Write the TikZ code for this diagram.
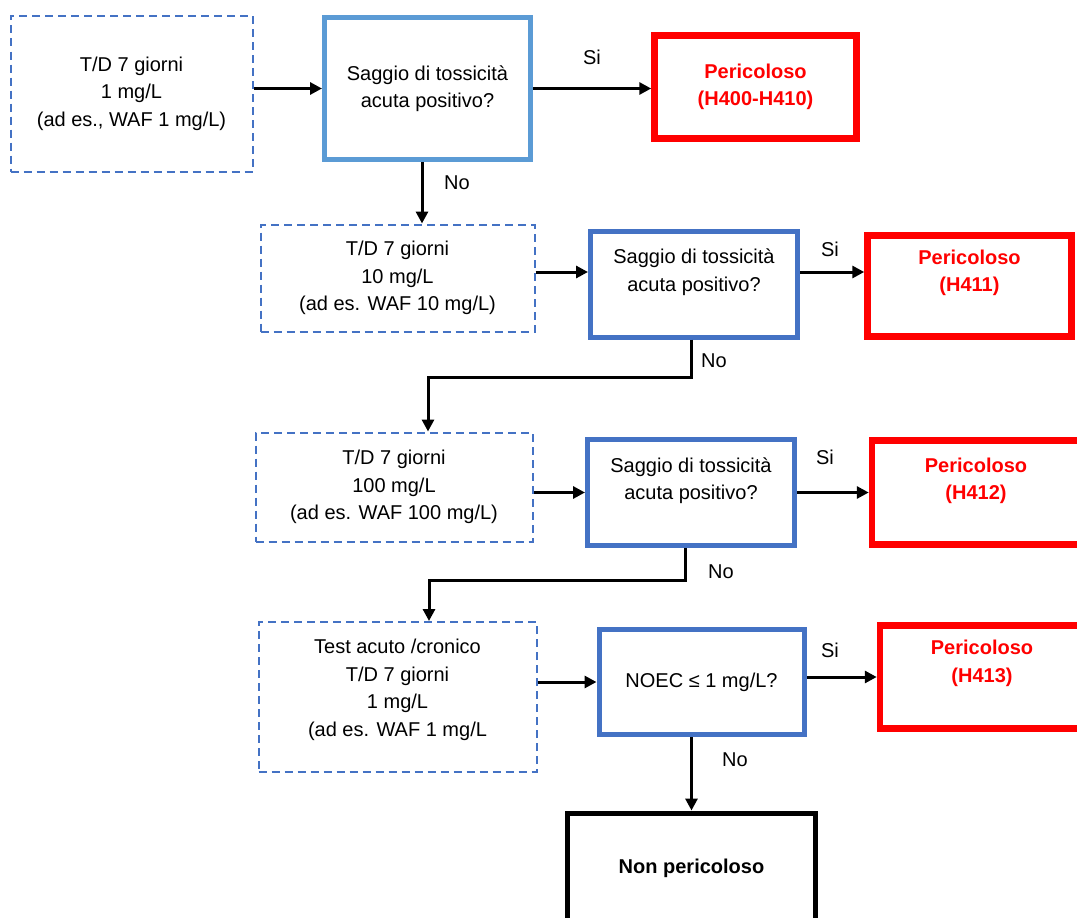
\documentclass[tikz,border=0pt]{standalone}
\usepackage{fontspec}
\setmainfont{Liberation Sans}
\usetikzlibrary{arrows.meta, positioning}

\definecolor{doseblue}{HTML}{4472C4}
\definecolor{firstblue}{HTML}{5B9BD5}
\definecolor{alarmred}{HTML}{FF0000}

\begin{document}
\begin{tikzpicture}[x=1pt, y=-1pt, every node/.style={font=\fontsize{20}{27.5}\selectfont, align=center, inner sep=0pt},
    dose/.style={rectangle, draw=doseblue, line width=2pt, dash pattern=on 8pt off 5pt},
    query/.style={rectangle, draw=doseblue, line width=5pt, minimum width=207pt, minimum height=106pt},
    hazard/.style={rectangle, draw=alarmred, line width=6.5pt, text=alarmred, font=\fontsize{20}{27.5}\selectfont\bfseries},
    redtext/.style={text=alarmred, font=\fontsize{20}{27.5}\selectfont\bfseries},
    arr/.style={line width=3pt, -{Triangle[length=12pt, width=12pt]}}]
    \useasboundingbox (0,0) rectangle (1077,918);
    \clip (0,0) rectangle (1077,918);

    % step 1: 1 mg/L
    \node (dose1) [dose, minimum width=242pt, minimum height=156pt] at (131.5,93.5) {T/D 7 giorni\\1 mg/L\\(ad es., WAF 1 mg/L)};
    \node (test1) [query, draw=firstblue, minimum width=206pt, minimum height=142pt] at (427.5,88.5) {Saggio di tossicità\\acuta positivo?};
    \node (haz1) [hazard, minimum width=202pt, minimum height=103pt] at (755.5,87) {Pericoloso\\(H400-H410)};

    % step 2: 10 mg/L
    \node (dose2) [dose, minimum width=274pt, minimum height=107pt] at (397.5,278) {T/D 7 giorni\\10 mg/L\\(ad es. WAF 10 mg/L)};
    \node (test2) [query] at (694,284) {};
    \node (test2txt) [yshift=12pt] at (test2) {Saggio di tossicità\\acuta positivo?};
    \node (haz2) [hazard, minimum width=204pt, minimum height=101pt] at (969.5,286) {};
    \node (haz2txt) [redtext, yshift=13pt] at (haz2) {Pericoloso\\(H411)};

    % step 3: 100 mg/L
    \node (dose3) [dose, minimum width=277pt, minimum height=109pt] at (394,487) {T/D 7 giorni\\100 mg/L\\(ad es. WAF 100 mg/L)};
    \node (test3) [query] at (691,492.5) {};
    \node (test3txt) [yshift=12pt] at (test3) {Saggio di tossicità\\acuta positivo?};
    \node (haz3) [hazard, minimum width=208pt, minimum height=104pt] at (976,492.5) {};
    \node (haz3txt) [redtext, yshift=11.5pt] at (haz3) {Pericoloso\\(H412)};

    % step 4: cronico
    \node (dose4) [dose, minimum width=278pt, minimum height=150pt] at (397.5,697) {};
    \node (dose4txt) [yshift=7pt] at (dose4) {Test acuto /cronico\\T/D 7 giorni\\1 mg/L\\(ad es. WAF 1 mg/L};
    \node (test4) [query, minimum width=205pt, minimum height=105pt] at (701.5,682) {NOEC ≤ 1 mg/L?};
    \node (haz4) [hazard, minimum width=204pt, minimum height=103pt] at (982,677) {};
    \node (haz4txt) [redtext, yshift=13.5pt] at (haz4) {Pericoloso\\(H413)};

    \node (nonhaz) [rectangle, draw=black, line width=5pt, minimum width=248pt, minimum height=110pt, font=\fontsize{20}{27.5}\selectfont\bfseries] at (691.5,868) {Non pericoloso};

    \coordinate (bend2) at (428,377);
    \coordinate (bend3) at (429,580);

    \draw [arr] (dose1.east |- test1) -- (test1.west);
    \draw [arr] (test1.east) -- (test1.east -| haz1.west);
    \draw [arr] ([xshift=-5.5pt]test1.south) -- ([xshift=-5.5pt]test1.south |- dose2.north);
    \draw [arr] (dose2.east |- test2txt) -- (test2txt -| test2.west);
    \draw [arr] (test2txt -| test2.east) -- (test2txt -| haz2.west);
    \draw [arr] ([xshift=-3pt]test2.south) |- (bend2) -- (bend2 |- dose3.north);
    \draw [arr] (dose3.east |- test3) -- (test3.west);
    \draw [arr] (test3.east) -- (test3.east -| haz3.west);
    \draw [arr] ([xshift=-6pt]test3.south) |- (bend3) -- (bend3 |- dose4.north);
    \draw [arr] (dose4.east |- test4) -- (test4.west);
    \draw [arr] (test4.east |- haz4) -- (haz4.west);
    \draw [arr] (nonhaz.north |- test4.south) -- (nonhaz.north);

    % answers
    \node (si1) at (592,57) {Si};
    \node (no1) at (457,183) {No};
    \node (si2) at (830,249) {Si};
    \node (no2) at (714,361) {No};
    \node (si3) at (825,457) {Si};
    \node (no3) at (721,572) {No};
    \node (si4) at (830,650) {Si};
    \node (no4) at (735,760) {No};
\end{tikzpicture}
\end{document}
